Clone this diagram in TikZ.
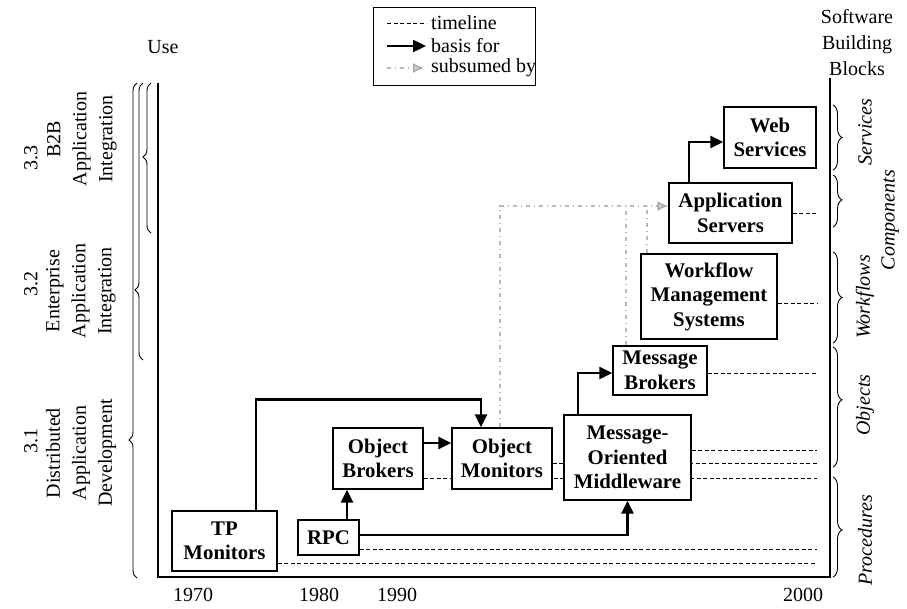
\documentclass[tikz,border=0pt]{standalone}
\usepackage{fontspec}
\setmainfont{Liberation Serif}
\usetikzlibrary{arrows.meta,decorations.pathreplacing}
\pgfdeclarelayer{bg}
\pgfsetlayers{bg,main}
\begin{document}
\begin{tikzpicture}[x=1pt,y=-1pt,
  blk/.style={draw, fill=white, line width=1.3pt, inner sep=0pt, align=center,
    font=\fontsize{20.8}{24.5}\selectfont\bfseries},
  txt/.style={inner sep=0pt, align=center, font=\fontsize{20}{26}\selectfont},
  itl/.style={inner sep=0pt, rotate=90, font=\fontsize{20}{24}\selectfont\itshape},
  basis/.style={line width=2.4pt, -{Triangle[length=13pt,width=12pt]}},
  tl/.style={line width=0.9pt, dash pattern=on 4pt off 2.5pt},
  subs/.style={line width=1.6pt, gray!55, dash pattern=on 4pt off 4pt on 1pt off 4pt},
  subtip/.style={-{Latex[length=11pt,width=10pt,fill=gray!35,color=gray!65]}},
  brc/.style={line width=0.9pt, decorate},
  axis/.style={line width=1.3pt}]
\useasboundingbox (0,0) rectangle (907,608);

% headings
\node[txt] (use) at (163,47) {Use};
\node[txt] (sbb) at (857,43) {Software\\Building\\Blocks};

% legend
\node[draw, line width=1.2pt, minimum width=162pt, minimum height=78pt, anchor=north west, inner sep=0pt] (legend) at (373,7) {};
\coordinate (lg1a) at (387,23); \coordinate (lg1b) at (426,23);
\coordinate (lg2a) at (387,46); \coordinate (lg2b) at (426,46);
\coordinate (lg3a) at (387,68); \coordinate (lg3b) at (424,68);
\draw[tl] (lg1a) -- (lg1b);
\draw[basis] (lg2a) -- (lg2b);
\draw[subs] (lg3a) -- (lg3b);
\draw[subtip, line width=1.5pt, gray!60] ([xshift=-2pt]lg3b) -- (lg3b);
\node[txt, anchor=west] (lgt1) at (431,23) {timeline};
\node[txt, anchor=west] (lgt2) at (431,46) {basis for};
\node[txt, anchor=west] (lgt3) at (431,68) {subsumed by};

% axes
\coordinate (axTL) at (158,83);
\coordinate (axBL) at (158,577);
\coordinate (axBR) at (830,577);
\coordinate (axTR) at (830,78);
\draw[axis] (axTL) -- (axBL) -- (axBR) -- (axTR);

% years
\node[txt] (y1970) at (193,595) {1970};
\node[txt] (y1980) at (319,595) {1980};
\node[txt] (y1990) at (397,595) {1990};
\node[txt] (y2000) at (803,595) {2000};

% building blocks
\node[blk, minimum width=105pt, minimum height=60pt] (TP)  at (224.5,541) {TP\\Monitors};
\node[blk, minimum width=61pt,  minimum height=35pt] (RPC) at (328.5,537.5) {RPC};
\node[blk, minimum width=90pt,  minimum height=61pt] (OB)  at (378,458.5) {Object\\Brokers};
\node[blk, minimum width=100pt, minimum height=61pt] (OM)  at (502,458.5) {Object\\Monitors};
\node[blk, minimum width=127pt, minimum height=85pt] (MOM) at (627.5,457.5) {Message-\\Oriented\\Middleware};
\node[blk, minimum width=94pt,  minimum height=49pt] (MB)  at (660,370.5) {Message\\Brokers};
\node[blk, minimum width=136pt, minimum height=85pt] (WMS) at (709,296.5) {Workflow\\Management\\Systems};
\node[blk, minimum width=123pt, minimum height=60pt] (AS)  at (730.5,213) {Application\\Servers};
\node[blk, minimum width=92pt,  minimum height=61pt] (WS)  at (770,137.5) {Web\\Services};

% timelines
\coordinate (eTP)  at (817,563);
\coordinate (eRPC) at (817,549);
\coordinate (eOB)  at (817,478);
\coordinate (eOM)  at (817,463);
\coordinate (eMOM) at (817,450);
\coordinate (eMB)  at (817,373);
\coordinate (eWMS) at (817,303);
\coordinate (eAS)  at (817,213);
\begin{pgfonlayer}{bg}
\draw[tl] ([yshift=-22pt]TP.east) -- (eTP);
\draw[tl] ([yshift=-11.5pt]RPC.east) -- (eRPC);
\draw[tl] ([yshift=-19.5pt]OB.east) -- (eOB);
\draw[tl] ([yshift=-4.5pt]OM.east) -- (eOM);
\draw[tl] ([yshift=7.5pt]MOM.east) -- (eMOM);
\draw[tl] ([yshift=-2.5pt]MB.east) -- (eMB);
\draw[tl] ([yshift=-6.5pt]WMS.east) -- (eWMS);
\draw[tl] (AS.east) -- (eAS);
\end{pgfonlayer}

% basis-for connectors
\draw[basis] ([xshift=31.5pt]TP.north) -- ++(0,-111) -| ([xshift=-21pt]OM.north);
\draw[basis] ([xshift=18.5pt]RPC.north) -- ([xshift=18.5pt]RPC.north |- OB.south);
\draw[basis] ([yshift=15.5pt]OB.east) -- ([yshift=15.5pt]OB.east -| OM.west);
\draw[basis] ([yshift=2.5pt]RPC.east) -| (MOM.south);
\draw[basis] ([xshift=-49.5pt]MOM.north) |- ([yshift=-2.5pt]MB.west);
\draw[basis] ([xshift=-41.5pt]AS.north) |- ([yshift=-4.5pt]WS.west);

% subsumed-by connectors
\coordinate (subtop) at ([yshift=7pt]AS.west);
\draw[subs] ([xshift=-34pt]MB.north) -- ([xshift=-34pt]MB.north |- subtop);
\draw[subs] ([xshift=-62pt]WMS.north) -- ([xshift=-62pt]WMS.north |- subtop);
\draw[subs] ([xshift=-2pt]OM.north) |- ([xshift=-10pt]subtop);
\draw[subs, subtip] ([xshift=-12pt]subtop) -- (subtop);

% usage braces and labels
\draw[brc, decoration={brace, amplitude=8pt, aspect=0.279}] (137,578) -- (137,83);
\draw[brc, decoration={brace, amplitude=8pt, aspect=0.253}] (143,360) -- (143,83);
\draw[brc, decoration={brace, amplitude=8pt, aspect=0.507}] (151,233) -- (151,83);
\node[txt, rotate=90] (n33) at (31,158) {3.3};
\node[txt, rotate=90] (n32) at (31,284) {3.2};
\node[txt, rotate=90] (n31) at (31,441) {3.1};
\node[txt, rotate=90] (u33) at (82,139) {B2B\\Application\\Integration};
\node[txt, rotate=90] (u32) at (81,291) {Enterprise\\Application\\Integration};
\node[txt, rotate=90] (u31) at (81,453) {Distributed\\Application\\Development};

% building-block braces and labels
\draw[brc, decoration={brace, amplitude=9pt, aspect=0.5}]  (833,105) -- (833,170);
\draw[brc, decoration={brace, amplitude=9pt, aspect=0.48}] (833,175) -- (833,227);
\draw[brc, decoration={brace, amplitude=9pt, aspect=0.5}]  (833,252) -- (833,343);
\draw[brc, decoration={brace, amplitude=9pt, aspect=0.44}] (833,347) -- (833,467);
\draw[brc, decoration={brace, amplitude=9pt, aspect=0.53}] (833,477) -- (833,577);
\node[itl] (lsv) at (865,132) {Services};
\node[itl] (lcp) at (890,220) {Components};
\node[itl] (lwf) at (865,297) {Workflows};
\node[itl] (lob) at (865,405) {Objects};
\node[itl] (lpr) at (865,540) {Procedures};
\end{tikzpicture}
\end{document}
